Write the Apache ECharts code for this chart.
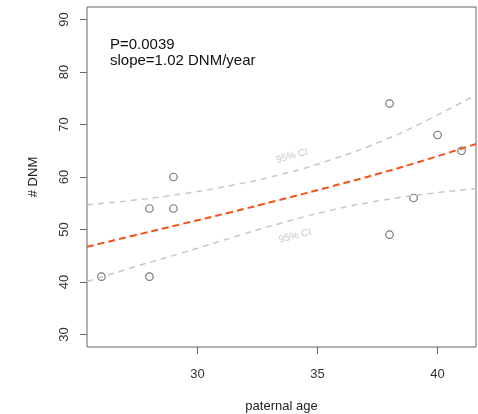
<!DOCTYPE html>
<html>
<head>
<meta charset="utf-8">
<script src="https://cdn.jsdelivr.net/npm/echarts@6/dist/echarts.min.js"></script>
<style>
  html, body { margin: 0; padding: 0; background: #fff; }
  #chart { width: 478px; height: 414px; }
</style>
</head>
<body>
<div id="chart"></div>
<script>
// observed points
var ageX = [26, 28, 28, 29, 29, 38, 38, 39, 40, 41];
var dnmY = [41, 54, 41, 54, 60, 74, 49, 56, 68, 65];
// fitted line and 95% CI
var fitX = [25.4, 27.4, 29.4, 31.4, 33.4, 35.5, 37.6, 39.6, 41.6];
var fitY = [46.7, 48.9, 51.1, 53.3, 55.6, 58.1, 60.7, 63.4, 66.3];
var ciUpper = [54.7, 55.6, 56.8, 58.4, 60.4, 63.2, 66.7, 70.9, 75.7];
var ciLower = [40.1, 42.9, 45.6, 48.4, 51.1, 53.6, 55.5, 56.8, 57.8];
var xTicks = [30, 35, 40];
var yTicks = [30, 40, 50, 60, 70, 80, 90];

function pairs(xs, ys) {
  var out = [];
  for (var i = 0; i < xs.length; i++) out.push([xs[i], ys[i]]);
  return out;
}

var font = '"Liberation Sans", Arial, sans-serif';
var chart = echarts.init(document.getElementById('chart'));
var option = {
  animation: false,
  grid: {
    left: 87, top: 7, right: 2, bottom: 67,
    outerBoundsMode: 'none', containLabel: false,
    show: true, borderColor: '#666', borderWidth: 1, backgroundColor: 'transparent'
  },
  xAxis: {
    type: 'value', min: 25.4, max: 41.6,
    name: 'paternal age', nameLocation: 'middle', nameGap: 53,
    nameTextStyle: { fontFamily: font, fontSize: 13, color: '#222' },
    axisLine: { show: false },
    splitLine: { show: false },
    axisTick: { show: true, length: 7, lineStyle: { color: '#666' }, customValues: xTicks },
    axisLabel: { fontFamily: font, fontSize: 13, color: '#333', margin: 21, customValues: xTicks }
  },
  yAxis: {
    type: 'value', min: 27.6, max: 92.4,
    name: '# DNM', nameLocation: 'middle', nameGap: 47, nameRotate: 90,
    nameTextStyle: { fontFamily: font, fontSize: 13, color: '#222' },
    axisLine: { show: false },
    splitLine: { show: false },
    axisTick: { show: true, length: 7, lineStyle: { color: '#666' }, customValues: yTicks },
    axisLabel: { fontFamily: font, fontSize: 13, color: '#333', margin: 16, rotate: 90, customValues: yTicks }
  },
  series: [
    {
      type: 'line', data: pairs(fitX, ciUpper), smooth: true, symbol: 'none',
      lineStyle: { color: '#c8c8c8', width: 1.5, type: [6, 5] }
    },
    {
      type: 'line', data: pairs(fitX, ciLower), smooth: true, symbol: 'none',
      lineStyle: { color: '#c8c8c8', width: 1.5, type: [6, 5] }
    },
    {
      type: 'line', data: pairs(fitX, fitY), smooth: true, symbol: 'none',
      lineStyle: { color: '#f4511e', width: 2, type: [7, 4] }
    },
    {
      type: 'scatter', data: pairs(ageX, dnmY), symbol: 'circle', symbolSize: 7.5,
      itemStyle: { color: '#fff', borderColor: '#555', borderWidth: 1.2 }
    }
  ],
  graphic: [
    { type: 'text', left: 110, top: 37, style: { text: 'P=0.0039', font: '15px ' + font, fill: '#111' } },
    { type: 'text', left: 110, top: 53, style: { text: 'slope=1.02 DNM/year', font: '15px ' + font, fill: '#111' } },
    { type: 'text', x: 292, y: 156, rotation: 0.27,
      style: { text: '95% CI', font: '10px ' + font, fill: '#c8c8c8', align: 'center', verticalAlign: 'middle' } },
    { type: 'text', x: 295, y: 236, rotation: 0.25,
      style: { text: '95% CI', font: '10px ' + font, fill: '#c8c8c8', align: 'center', verticalAlign: 'middle' } }
  ]
};
chart.setOption(option);
</script>
</body>
</html>
